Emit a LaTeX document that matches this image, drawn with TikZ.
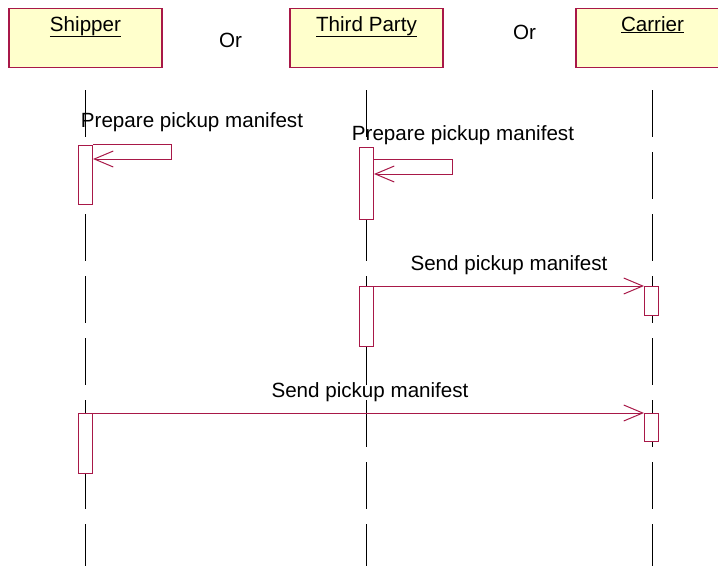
\documentclass[tikz,border=0pt]{standalone}
\usepackage{fontspec}
\setmainfont{Liberation Sans}
\usetikzlibrary{arrows.meta,calc}
\definecolor{rosered}{RGB}{168,24,72}
\definecolor{roseyellow}{RGB}{255,255,204}
\tikzset{
  objbox/.style={draw=rosered, fill=roseyellow, line width=1.1pt, minimum width=153pt, minimum height=59pt, inner sep=0pt, anchor=north},
  objname/.style={anchor=base, inner sep=0pt, font=\fontsize{20.6}{24}\selectfont},
  txt/.style={anchor=base, inner sep=0pt, font=\fontsize{20.6}{24}\selectfont},
  life/.style={draw=black, line width=1pt, dash pattern=on 47pt off 15pt},
  actbox/.style={draw=rosered, fill=white, line width=1pt, minimum width=14pt, inner sep=0pt, anchor=north},
  msg/.style={draw=rosered, line width=1pt, -{Straight Barb[length=19pt,width=16pt,line width=1pt]}},
}
\begin{document}
\begin{tikzpicture}[x=1pt,y=-1pt]
\useasboundingbox (0,0) rectangle (718,566);
% objects
\node[objbox] (ship) at (85.5,8) {};
\node[objbox] (third) at (366.5,8) {};
\node[objbox] (carr) at (652.5,8) {};
\node[objname] (shipN) at (85.5,31) {\underline{Shipper}};
\node[objname] (thirdN) at (366.5,31) {\underline{Third Party}};
\node[objname] (carrN) at (652.5,31) {\underline{Carrier}};
\node[txt] (or1) at (230.5,47) {Or};
\node[txt] (or2) at (524.5,39) {Or};
% lifelines
\coordinate (shipEnd) at (85.5,566);
\coordinate (thirdEnd) at (366.5,566);
\coordinate (carrEnd) at (652.5,566);
\draw[life] ([yshift=-22pt]ship.south) -- (shipEnd);
\draw[life] ([yshift=-22pt]third.south) -- (thirdEnd);
\draw[life] ([yshift=-22pt]carr.south) -- (carrEnd);
% activations
\node[actbox, minimum height=59pt] (sA1) at (85.5,145) {};
\node[actbox, minimum height=72pt] (tA1) at (366.5,147) {};
\node[actbox, minimum height=60pt] (tA2) at (366.5,286) {};
\node[actbox, minimum height=29pt] (cA1) at (651.5,286) {};
\node[actbox, minimum height=60pt] (sA2) at (85.5,413) {};
\node[actbox, minimum height=28pt] (cA2) at (651.5,413) {};
% self messages
\coordinate (sS) at ($(sA1.north east)+(0,-1)$);
\coordinate (sE) at ($(sA1.north east)+(0,14)$);
\draw[msg] (sS) -- ++(78,0) -- ++(0,15) -- (sE);
\coordinate (tS) at ($(tA1.north east)+(0,12)$);
\coordinate (tE) at ($(tA1.north east)+(0,27)$);
\draw[msg] (tS) -- ++(78,0) -- ++(0,15) -- (tE);
% messages
\draw[msg] (tA2.north east) -- (cA1.north west);
\draw[msg] (sA2.north east) -- (cA2.north west);
% labels
\node[txt] (l1) at (192,127) {Prepare pickup manifest};
\node[txt] (l2) at (463,140) {Prepare pickup manifest};
\node[txt] (l3) at (509,270) {Send pickup manifest};
\node[txt] (l4) at (370,397) {Send pickup manifest};
\end{tikzpicture}
\end{document}
